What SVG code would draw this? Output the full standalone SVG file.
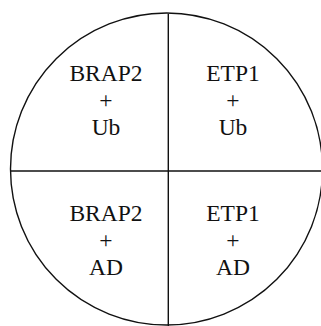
<svg xmlns="http://www.w3.org/2000/svg" width="321" height="326" viewBox="0 0 321 326">
<style>
.t{font-size:23.5px;fill:#111;text-anchor:middle}
.l{stroke:#111;stroke-width:1.4;fill:none}
</style>
<rect width="321" height="326" fill="#fff"/>
<g id="connectors">
<circle class="l" cx="166.5" cy="169" r="156"/>
<line class="l" x1="168.3" y1="14" x2="168.3" y2="326"/>
<line class="l" x1="10" y1="171" x2="321" y2="171"/>
</g>
<g font-family="Liberation Serif, Times New Roman, serif">
<g id="q1"><text class="t" x="106" y="80.5">BRAP2</text><text class="t" x="106" y="107.5">+</text><text class="t" x="106" y="134.5">Ub</text></g>
<g id="q2"><text class="t" x="233" y="80.5">ETP1</text><text class="t" x="233" y="107.5">+</text><text class="t" x="233" y="134.5">Ub</text></g>
<g id="q3"><text class="t" x="106" y="220.5">BRAP2</text><text class="t" x="106" y="247.5">+</text><text class="t" x="106" y="274.5">AD</text></g>
<g id="q4"><text class="t" x="233" y="220.5">ETP1</text><text class="t" x="233" y="247.5">+</text><text class="t" x="233" y="274.5">AD</text></g>
</g>
</svg>
